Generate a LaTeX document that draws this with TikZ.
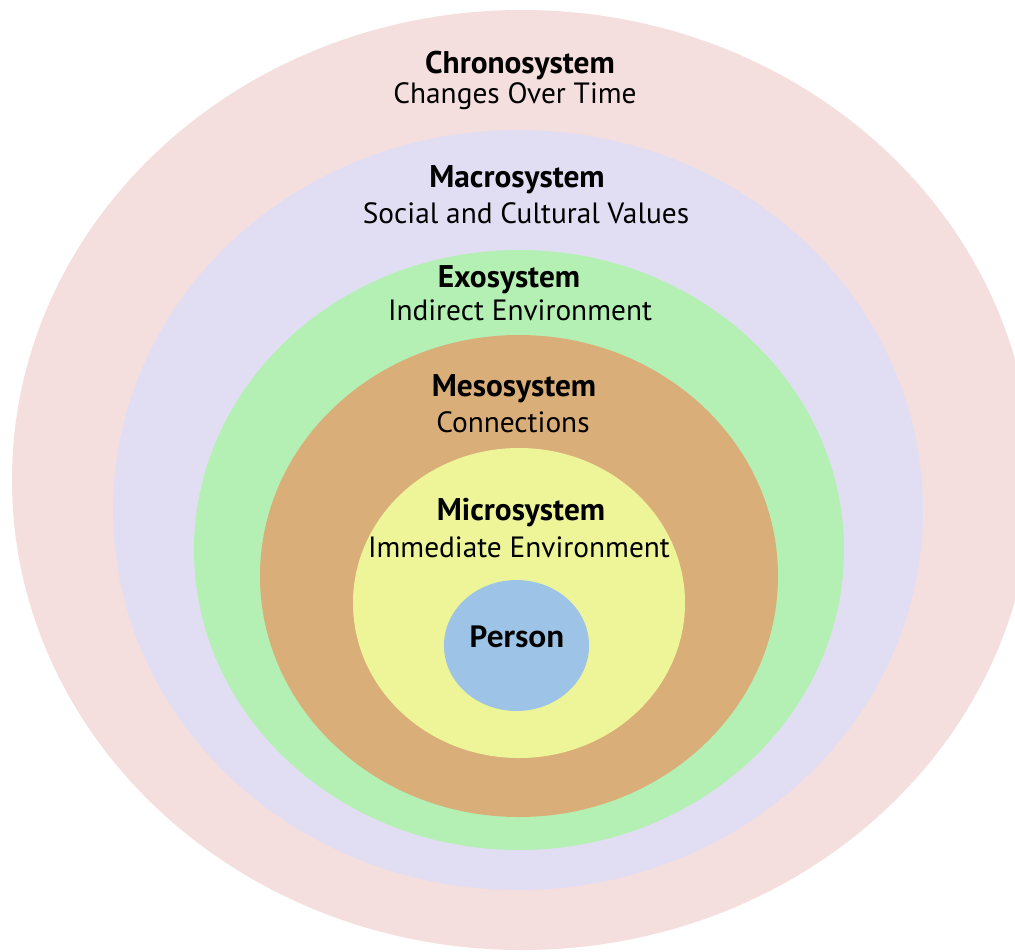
\documentclass[tikz,border=0pt]{standalone}
\usepackage{fontspec}
\setmainfont{PT Sans}
\newfontfamily\personfont{Carlito}
\definecolor{chrono}{RGB}{245,222,222}
\definecolor{macro}{RGB}{225,222,243}
\definecolor{exo}{RGB}{180,240,180}
\definecolor{meso}{RGB}{218,174,120}
\definecolor{micro}{RGB}{237,245,152}
\definecolor{person}{RGB}{157,195,230}
\begin{document}
\begin{tikzpicture}[x=0.75pt,y=-0.75pt,
  title/.style={anchor=base,inner sep=0pt,font=\fontsize{23.5}{28}\selectfont\bfseries},
  sub/.style={anchor=base,inner sep=0pt,font=\fontsize{22}{26}\selectfont}]
\useasboundingbox (0,0) rectangle (1015,951);
\fill[white] (0,0) rectangle (1015,951);
\fill[chrono] (522,480) ellipse [x radius=382.5pt, y radius=352.5pt];
\fill[macro] (518,510) ellipse [x radius=303.75pt, y radius=285pt];
\fill[exo] (519,550) ellipse [x radius=243.75pt, y radius=225pt];
\fill[meso] (519,576) ellipse [x radius=194.25pt, y radius=180.75pt];
\fill[micro] (519,603) ellipse [x radius=124.5pt, y radius=116.25pt];
\fill[person] (516.5,645.5) ellipse [x radius=54.4pt, y radius=49.1pt];
\node[title] (chronoT) at (520,73) {Chronosystem};
\node[sub] (chronoS) at (515,103) {Changes Over Time};
\node[title] (macroT) at (517,187) {Macrosystem};
\node[sub] (macroS) at (526,223) {Social and Cultural Values};
\node[title] (exoT) at (509,287) {Exosystem};
\node[sub] (exoS) at (520,320) {Indirect Environment};
\node[title] (mesoT) at (514,396) {Mesosystem};
\node[sub] (mesoS) at (513,432) {Connections};
\node[title] (microT) at (521,520) {Microsystem};
\node[sub] (microS) at (519,557) {Immediate Environment};
\node[anchor=base,inner sep=0pt,font=\personfont\fontsize{25}{30}\selectfont\bfseries] (personT) at (517,647) {Person};
\end{tikzpicture}
\end{document}
